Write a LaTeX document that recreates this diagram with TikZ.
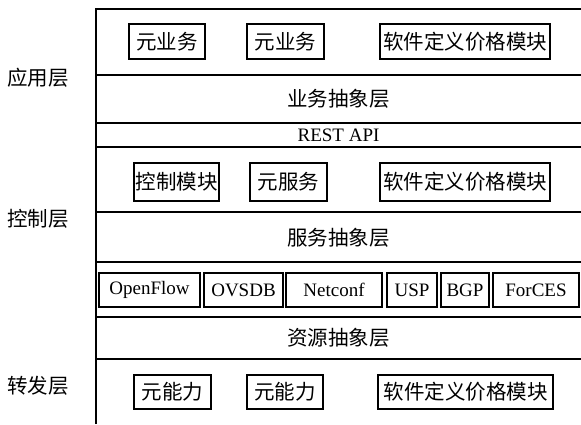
\documentclass[tikz,border=0pt]{standalone}
\usepackage{fontspec}
\setmainfont{Liberation Serif}
\newfontfamily\cjk{Noto Sans CJK SC}
\begin{document}
\begin{tikzpicture}[x=1pt,y=-1pt,
  txt/.style={inner sep=0pt,font=\fontsize{19}{22}\selectfont},
  cn/.style={txt,font=\cjk\fontsize{20.5}{23}\selectfont},
  bx/.style={draw,line width=1.4pt,inner sep=0pt,align=center},
  cbx/.style={bx,cn},
  lbx/.style={bx,txt},
  rule/.style={line width=1.3pt}]
\useasboundingbox (0,0) rectangle (581,424);
% frame
\coordinate (tl) at (96,9);
\coordinate (bl) at (96,424);
\draw[rule] (bl) -- (tl) -- (581,9);
\foreach \yy in {75,123,147,212,262,317,359}{
  \draw[rule] (96,\yy) -- (581,\yy);
}
% left labels
\node[cn] (app) at (38,78) {应用层};
\node[cn] (ctl) at (38,219) {控制层};
\node[cn] (fwd) at (38,386) {转发层};
% band labels
\node[cn] (bal) at (338.5,99) {业务抽象层};
\node[txt] (rest) at (338.5,135) {REST API};
\node[cn] (sal) at (338.5,238) {服务抽象层};
\node[cn] (ral) at (338.5,338) {资源抽象层};
% row 1
\node[cbx,minimum width=76pt,minimum height=35pt] (a1) at (167,41.5) {元业务};
\node[cbx,minimum width=77pt,minimum height=35pt] (a2) at (285.5,41.5) {元业务};
\node[cbx,minimum width=170pt,minimum height=35pt] (a3) at (465,41.5) {软件定义价格模块};
% row 2
\node[cbx,minimum width=85pt,minimum height=38pt] (c1) at (176.5,182) {控制模块};
\node[cbx,minimum width=77pt,minimum height=38pt] (c2) at (288.5,182) {元服务};
\node[cbx,minimum width=170pt,minimum height=38pt] (c3) at (465,182) {软件定义价格模块};
% row 3
\node[lbx,minimum width=101pt,minimum height=34pt] (p1) at (149.5,290) {OpenFlow};
\node[lbx,minimum width=79pt,minimum height=34pt] (p2) at (243.5,290) {OVSDB};
\node[lbx,minimum width=96pt,minimum height=34pt] (p3) at (334,290) {Netconf};
\node[lbx,minimum width=50pt,minimum height=34pt] (p4) at (412,290) {USP};
\node[lbx,minimum width=48pt,minimum height=34pt] (p5) at (465,290) {BGP};
\node[lbx,minimum width=86pt,minimum height=34pt] (p6) at (536,290) {ForCES};
% row 4
\node[cbx,minimum width=77pt,minimum height=34pt] (f1) at (172.5,392) {元能力};
\node[cbx,minimum width=76pt,minimum height=34pt] (f2) at (285,392) {元能力};
\node[cbx,minimum width=175pt,minimum height=34pt] (f3) at (465.5,392) {软件定义价格模块};
\end{tikzpicture}
\end{document}
